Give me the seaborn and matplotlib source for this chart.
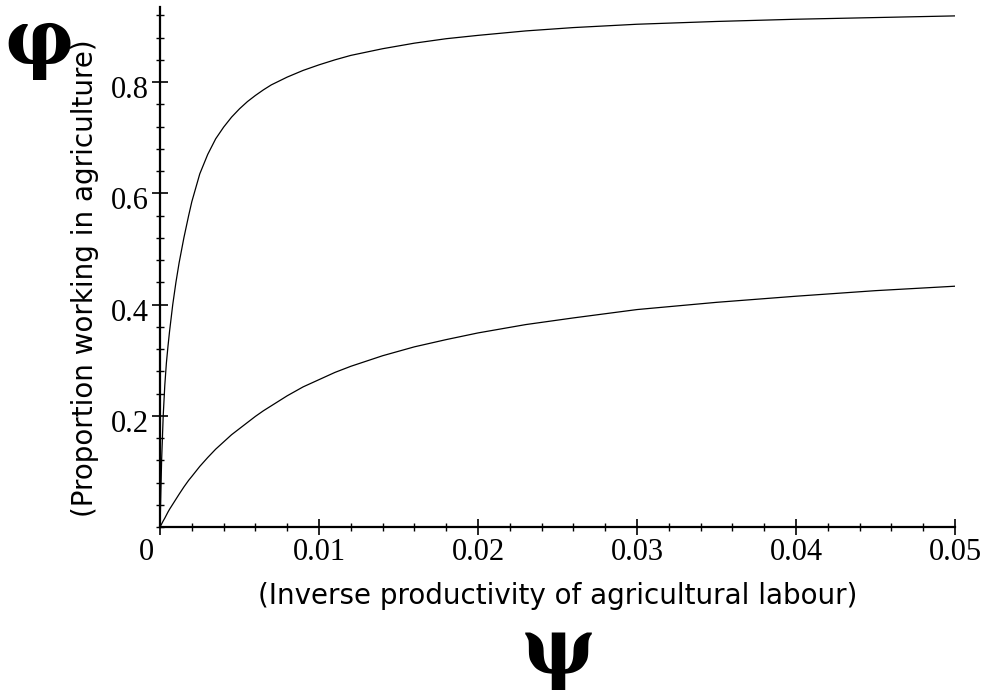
import numpy as np
import pandas as pd
import matplotlib
matplotlib.use("Agg")
import matplotlib.pyplot as plt
import matplotlib.transforms as mtransforms
from matplotlib.ticker import MultipleLocator, FixedLocator
import seaborn as sns

# ---- data ----
psi = [0, 0.0001, 0.0002, 0.0003, 0.0004, 0.0005, 0.0006, 0.0008, 0.001, 0.0012,
       0.0015, 0.0018, 0.002, 0.0025, 0.003, 0.0035, 0.004, 0.0045, 0.005, 0.0055,
       0.006, 0.0065, 0.007, 0.008, 0.009, 0.01, 0.011, 0.012, 0.014, 0.016,
       0.018, 0.02, 0.023, 0.026, 0.03, 0.035, 0.04, 0.045, 0.05]
phi_upper = [0, 0.12, 0.20, 0.255, 0.295, 0.325, 0.352, 0.40, 0.44, 0.475,
             0.52, 0.56, 0.585, 0.635, 0.67, 0.698, 0.719, 0.737, 0.752, 0.765,
             0.776, 0.786, 0.795, 0.809, 0.821, 0.831, 0.840, 0.848, 0.860, 0.870,
             0.878, 0.884, 0.892, 0.898, 0.904, 0.909, 0.913, 0.916, 0.919]
phi_lower = [0, 0.0055, 0.011, 0.016, 0.0215, 0.027, 0.032, 0.041, 0.050, 0.059,
             0.072, 0.084, 0.091, 0.109, 0.125, 0.140, 0.153, 0.166, 0.177, 0.188,
             0.199, 0.209, 0.218, 0.236, 0.252, 0.265, 0.278, 0.289, 0.308, 0.324,
             0.337, 0.349, 0.364, 0.376, 0.391, 0.404, 0.415, 0.425, 0.433]
x_ticks = [0, 0.01, 0.02, 0.03, 0.04, 0.05]
x_ticklabels = ["0", "0.01", "0.02", "0.03", "0.04", "0.05"]
y_ticks = [0.2, 0.4, 0.6, 0.8]
y_ticklabels = ["0.2", "0.4", "0.6", "0.8"]
x_label = "(Inverse productivity of agricultural labour)"
y_label = "(Proportion working in agriculture)"

df = pd.DataFrame({
    "psi": psi + psi,
    "phi": phi_upper + phi_lower,
    "curve": ["upper"] * len(psi) + ["lower"] * len(psi),
})

sns.set_theme(style="white")
plt.rcParams["font.family"] = ["DejaVu Sans"]

fig = plt.figure(figsize=(9.86, 7.0), dpi=100)
ax = fig.add_axes([0.1623, 0.2471, 0.8063, 0.7429])

sns.lineplot(data=df, x="psi", y="phi", hue="curve",
             palette={"upper": "black", "lower": "black"},
             linewidth=0.9, legend=False, ax=ax, sort=False)

ax.set_xlim(0, 0.05)
ax.set_ylim(0, 0.935)

for s in ["top", "right"]:
    ax.spines[s].set_visible(False)
for s in ["left", "bottom"]:
    ax.spines[s].set_color("black")
    ax.spines[s].set_linewidth(1.6)

ax.xaxis.set_major_locator(FixedLocator(x_ticks))
ax.set_xticklabels(x_ticklabels)
ax.xaxis.set_minor_locator(MultipleLocator(0.002))
ax.yaxis.set_major_locator(FixedLocator(y_ticks))
ax.set_yticklabels(y_ticklabels)
ax.yaxis.set_minor_locator(MultipleLocator(0.04))

ax.tick_params(axis="both", which="major", direction="inout", length=12,
               width=1.2, color="black", labelsize=22, pad=2,
               bottom=True, left=True)
ax.tick_params(axis="both", which="minor", direction="inout", length=6,
               width=1.0, color="black", bottom=True, left=True)
for lab in ax.get_xticklabels() + ax.get_yticklabels():
    lab.set_fontfamily("Liberation Serif")
    lab.set_color("black")

# shift the "0" label left of the origin and y labels slightly down
xl = ax.get_xticklabels()
xl[0].set_transform(xl[0].get_transform() +
                    mtransforms.ScaledTranslation(-0.14, 0, fig.dpi_scale_trans))
for lab in ax.get_yticklabels():
    lab.set_transform(lab.get_transform() +
                      mtransforms.ScaledTranslation(0, -0.05, fig.dpi_scale_trans))

ax.set_xlabel("")
ax.set_ylabel("")
fig.text(558 / 986, 1 - 596 / 700, x_label, ha="center", va="center",
         fontsize=20, family="DejaVu Sans", color="black")
fig.text(85 / 986, 1 - 278 / 700, y_label, ha="center", va="center",
         rotation=90, fontsize=20, family="DejaVu Sans", color="black")

fig.text(39 / 986, 1 - 43 / 700, "φ", ha="center", va="center",
         fontsize=55, family="DejaVu Serif", fontweight="bold", color="black")
fig.text(558 / 986, 1 - 652 / 700, "ψ", ha="center", va="center",
         fontsize=56, family="DejaVu Serif", fontweight="bold", color="black")

fig.savefig("out.png", dpi=100, facecolor="white")
